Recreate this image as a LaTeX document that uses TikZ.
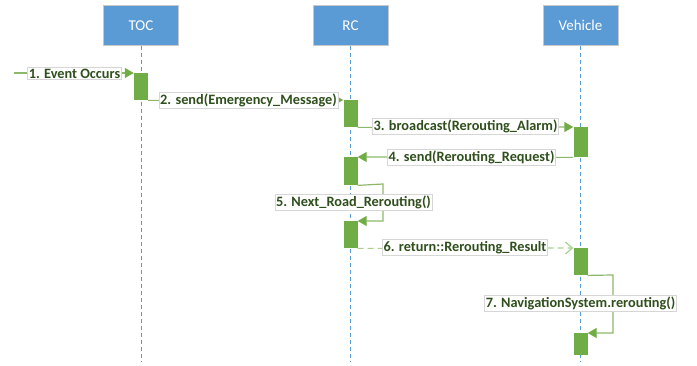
\documentclass[tikz,border=0pt]{standalone}
\usepackage{fontspec}
\setmainfont{Carlito}
\usetikzlibrary{arrows.meta}
\definecolor{headblue}{HTML}{5B9BD5}
\definecolor{headedge}{HTML}{C8C8C8}
\definecolor{actgreen}{HTML}{70AD47}
\definecolor{msgline}{HTML}{8DB86A}
\definecolor{retline}{HTML}{A9D08E}
\definecolor{labtext}{HTML}{2F4F1C}
\definecolor{labedge}{HTML}{D6D6D6}
\tikzset{
  head/.style={draw=headedge, line width=1pt, fill=headblue, text=white, minimum width=75pt, minimum height=40pt, inner sep=0pt, font=\fontsize{15}{15}\selectfont},
  life/.style={draw=headblue, line width=0.8pt, dash pattern=on 4pt off 3pt},
  act/.style={fill=actgreen, draw=none, minimum width=14pt, inner sep=0pt, anchor=north},
  msg/.style={draw=msgline, line width=1.2pt, -{Triangle[length=9pt,width=10pt,fill=actgreen,color=actgreen]}},
  ret/.style={draw=retline, line width=1.2pt, dash pattern=on 6pt off 4pt, -{Straight Barb[length=7pt,width=12pt,line width=1.2pt]}},
  lab/.style={draw=labedge, line width=0.6pt, fill=white, text=labtext, inner xsep=1pt, inner ysep=1.5pt, font=\fontsize{14.3}{14.3}\selectfont\bfseries},
}
\begin{document}
\begin{tikzpicture}[x=1pt,y=-1pt]
\useasboundingbox (0,0) rectangle (697,366);
% heads
\node[head] (toc) at (141,25.5) {TOC};
\node[head] (rc) at (350.5,25.5) {RC};
\node[head] (veh) at (580.5,25.5) {Vehicle};
\coordinate (tocend) at (141,362);
\coordinate (rcend) at (350.5,362);
\coordinate (vehend) at (580.5,362);
\draw[life] (toc.south) -- (tocend);
\draw[life] (rc.south) -- (rcend);
\draw[life] (veh.south) -- (vehend);
% activations
\node[act, minimum height=27pt] (a1) at (141,73) {};
\node[act, minimum height=27pt] (a2) at (350.5,100) {};
\node[act, minimum height=30pt] (a3) at (580.5,127) {};
\node[act, minimum height=28pt] (a4) at (350.5,157) {};
\node[act, minimum height=27pt] (a5) at (350.5,221) {};
\node[act, minimum height=27pt] (a6) at (580.5,248) {};
\node[act, minimum height=22pt] (a7) at (580.5,333) {};
% messages
\coordinate (start) at (14,73);
\draw[msg] (start) -- (a1.north west);
\draw[msg] (a1.south east) -- (a2.north west);
\draw[msg] (a2.south east) -- (a3.north west);
\draw[msg] (a3.south west) -- (a4.north east);
\coordinate (s5a) at (383,184);
\draw[msg] (a4.south east) -- (s5a) |- (a5.north east);
\draw[ret] (a5.south east) -- (a6.north west);
\coordinate (s7a) at (613,275);
\draw[msg] (a6.south east) -- (s7a) |- (a7.north east);
% labels
\node[lab] (l1) at (74.5,73.5) {1. Event Occurs};
\node[lab] (l2) at (248.5,100) {2. send(Emergency\_Message)};
\node[lab] (l3) at (465.5,126.5) {3. broadcast(Rerouting\_Alarm)};
\node[lab] (l4) at (471.5,157.5) {4. send(Rerouting\_Request)};
\node[lab] (l5) at (353.5,202.5) {5. Next\_Road\_Rerouting()};
\node[lab] (l6) at (465,247.5) {6. return::Rerouting\_Result};
\node[lab] (l7) at (580.5,303.5) {7. NavigationSystem.rerouting()};
\end{tikzpicture}
\end{document}
